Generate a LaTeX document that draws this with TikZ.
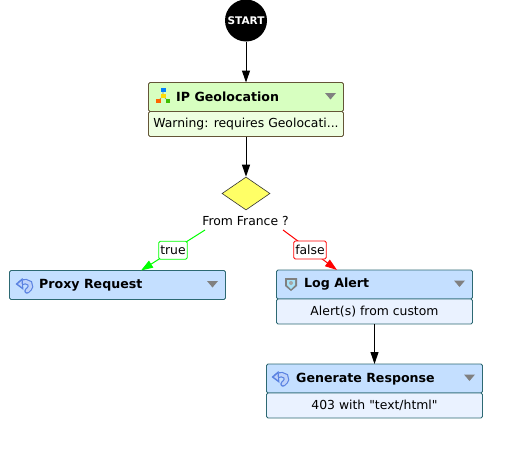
\documentclass[tikz,border=0pt]{standalone}
\usepackage{fontspec}
\setmainfont{DejaVu Sans}
\newfontfamily\straightfont{DejaVu Sans}
\usetikzlibrary{shapes.geometric,arrows.meta,positioning,calc}
\definecolor{colorgreenhead}{RGB}{215,255,192}
\definecolor{colorgreenbody}{RGB}{238,255,225}
\definecolor{colorgreenline}{RGB}{100,85,55}
\definecolor{colorbluehead}{RGB}{196,223,255}
\definecolor{colorbluebody}{RGB}{234,242,255}
\definecolor{colorblueline}{RGB}{45,105,115}
\definecolor{colorcond}{RGB}{255,255,102}
\definecolor{colorback}{RGB}{90,130,225}
\definecolor{colorbacklight}{RGB}{190,210,250}
\tikzstyle{head} = [rectangle, draw, rounded corners=1.5pt, outer sep=0pt, inner sep=0pt, line width=0.9pt, minimum height=29pt]
\tikzstyle{body} = [rectangle, draw, rounded corners=1.5pt, outer sep=0pt, inner sep=0pt, line width=0.9pt, minimum height=25pt, font=\fontsize{12.4}{14}\selectfont]
\tikzstyle{title} = [anchor=west, inner sep=0pt, font=\fontsize{12.6}{14}\selectfont\bfseries]
\tikzstyle{flow} = [line width=1pt, -{Triangle[length=12pt,width=8pt]}]
\tikzstyle{cond} = [draw, rounded corners=1.5pt, fill=white, line width=0.9pt, inner xsep=1.5pt, inner ysep=0pt, minimum height=18pt, text=black, font=\fontsize{12.4}{14}\selectfont]
\newcommand{\menumark}[1]{\fill[black!50] ($(#1.east)+(-18.5pt,4pt)$) -- ++(11pt,0pt) -- ++(-5.5pt,-6.5pt) -- cycle;}
\newcommand{\backicon}[1]{
	\begin{scope}[shift={(#1)}]
		\draw[line width=5.5pt, colorback, line cap=round] (-4,-3) .. controls (3,-7) and (10,-1) .. (2,5);
		\draw[line width=3.2pt, colorbacklight, line cap=round] (-4,-3) .. controls (3,-7) and (10,-1) .. (2,5);
		\fill[colorback] (-9.5,-2) -- (-2.5,-8) -- (-1.5,4) -- cycle;
		\fill[colorbacklight] (-7,-2) -- (-3.5,-5) -- (-3,1) -- cycle;
	\end{scope}
}
\newcommand{\geoicon}[1]{
	\begin{scope}[shift={(#1)}]
		\draw[black!50, line width=0.6pt] (0,-5) -- (0,0) (-5,5) -- (0,0) -- (5,5);
		\fill[blue!50!cyan] (-2.5,-8) rectangle (2.5,-4);
		\fill[yellow!80!orange] (-2.5,-2) rectangle (2.5,2);
		\fill[orange!80!red] (-7,3) rectangle (-2.5,7);
		\fill[green!50!olive] (2.5,3) rectangle (7,7);
	\end{scope}
}
\newcommand{\shieldicon}[1]{
	\begin{scope}[shift={(#1)}]
		\fill[black!50] (-6,-6) -- (6,-6) -- (6,2) -- (0,7) -- (-6,2) -- cycle;
		\fill[cyan!35] (-4,-4) -- (4,-4) -- (4,1) -- (0,5) -- (-4,1) -- cycle;
		\fill[black!35] (0,-1) circle (2pt);
	\end{scope}
}

\begin{document}
\begin{tikzpicture}[x=1pt,y=-1pt]
	\useasboundingbox (0,0) rectangle (524,458);

	\node[circle, fill=black, inner sep=0pt, minimum size=42pt, text=white, font=\fontsize{10.5}{12}\selectfont\bfseries](Start) at (246,20.5){START};

	% geolocation
	\node[head, minimum width=195pt, fill=colorgreenhead, draw=colorgreenline](Geo-head) at (246,97){};
	\node[body, minimum width=195pt, fill=colorgreenbody, draw=colorgreenline, anchor=north](Geo-body) at (Geo-head.south){Warning: requires Geolocati...};
	\node[title](Geo-title) at ([xshift=27.5pt]Geo-head.west){IP Geolocation};
	\geoicon{163,96}
	\menumark{Geo-head}

	% condition
	\node[diamond, draw=black!80, fill=colorcond, inner sep=0pt, minimum width=48pt, minimum height=33pt, line width=0.6pt](Cond) at (246,193.5){};
	\node[inner sep=0pt, font=\fontsize{12.4}{14}\selectfont](Cond-text) at (245.5,220.5){From France ?};
	\coordinate(Cond-true) at ([xshift=-40.5pt, yshift=-9.5pt]Cond-text.center);
	\coordinate(Cond-false) at ([xshift=37.5pt, yshift=-9.5pt]Cond-text.center);

	% branches
	\node[head, minimum width=216pt, fill=colorbluehead, draw=colorblueline](Proxy) at (117.5,285){};
	\node[title](Proxy-title) at ([xshift=29.5pt]Proxy.west){Proxy Request};
	\backicon{25,286}
	\menumark{Proxy}

	\node[head, minimum width=196pt, fill=colorbluehead, draw=colorblueline](Log-head) at (374.5,284.5){};
	\node[body, minimum width=196pt, fill=colorbluebody, draw=colorblueline, anchor=north](Log-body) at (Log-head.south){Alert(s) from custom};
	\node[title](Log-title) at ([xshift=27.5pt]Log-head.west){Log Alert};
	\shieldicon{291,284}
	\menumark{Log-head}

	\node[head, minimum width=216pt, fill=colorbluehead, draw=colorblueline](Resp-head) at (374.5,378.5){};
	\node[body, minimum width=216pt, fill=colorbluebody, draw=colorblueline, anchor=north](Resp-body) at (Resp-head.south){\straightfont 403 with "text/html"};
	\node[title](Resp-title) at ([xshift=29.5pt, yshift=-0.5pt]Resp-head.west){Generate Response};
	\backicon{281,379}
	\menumark{Resp-head}

	\draw[flow] (Start) -- (Geo-head);
	\draw[flow] (Geo-body.south) -- (Cond.north);
	\draw[flow] (Log-body.south) -- (Resp-head.north);
	\draw[flow, color=green] (Cond-true) -- node[cond, draw=green]{true} ([xshift=23.5pt]Proxy.north);
	\draw[flow, color=red] (Cond-false) -- node[cond, draw=red]{false} ([xshift=-37.5pt]Log-head.north);
\end{tikzpicture}
\end{document}
